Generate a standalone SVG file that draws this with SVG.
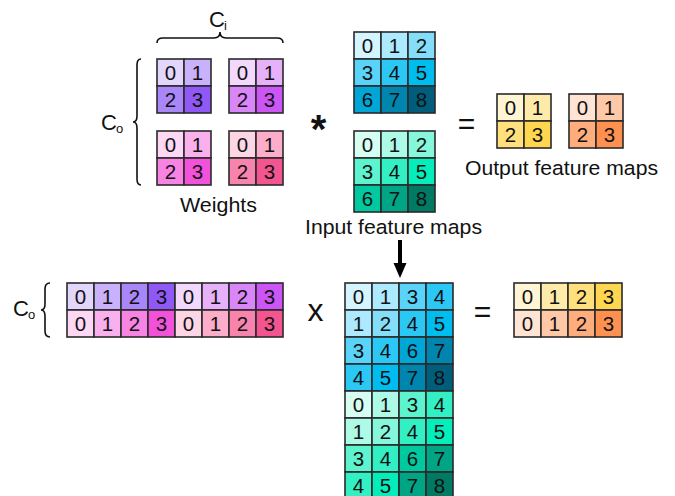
<svg xmlns="http://www.w3.org/2000/svg" width="675" height="496" viewBox="0 0 675 496">
<style>
.c{stroke:#2a2a2a;stroke-width:1.6}
.d{font-family:"Liberation Sans",Arial,sans-serif;font-size:20.5px;text-anchor:middle;fill:#111}
.l{font-family:"Liberation Sans",Arial,sans-serif;font-size:20.5px;text-anchor:middle;fill:#111}
.s{font-family:"Liberation Sans",Arial,sans-serif;fill:#111}
.br{fill:none;stroke:#111;stroke-width:1.6}
</style>
<rect width="675" height="496" fill="#fff"/>

<!-- Weights -->
<g id="weights">
 <g transform="translate(157,59)">
  <rect class="c" x="0" y="0" width="27" height="27" fill="#E2D6FD"/><rect class="c" x="27" y="0" width="27" height="27" fill="#C9B2FB"/>
  <rect class="c" x="0" y="27" width="27" height="27" fill="#A987F9"/><rect class="c" x="27" y="27" width="27" height="27" fill="#8F58F7"/>
  <text class="d" x="13.5" y="21">0</text><text class="d" x="40.5" y="21">1</text><text class="d" x="13.5" y="48">2</text><text class="d" x="40.5" y="48">3</text>
 </g>
 <g transform="translate(229,59)">
  <rect class="c" x="0" y="0" width="27" height="27" fill="#F2D8FD"/><rect class="c" x="27" y="0" width="27" height="27" fill="#E7B1FA"/>
  <rect class="c" x="0" y="27" width="27" height="27" fill="#D886F8"/><rect class="c" x="27" y="27" width="27" height="27" fill="#CB55F5"/>
  <text class="d" x="13.5" y="21">0</text><text class="d" x="40.5" y="21">1</text><text class="d" x="13.5" y="48">2</text><text class="d" x="40.5" y="48">3</text>
 </g>
 <g transform="translate(157,131)">
  <rect class="c" x="0" y="0" width="27" height="27" fill="#FDD8F5"/><rect class="c" x="27" y="0" width="27" height="27" fill="#FAB0ED"/>
  <rect class="c" x="0" y="27" width="27" height="27" fill="#F783E3"/><rect class="c" x="27" y="27" width="27" height="27" fill="#F252DA"/>
  <text class="d" x="13.5" y="21">0</text><text class="d" x="40.5" y="21">1</text><text class="d" x="13.5" y="48">2</text><text class="d" x="40.5" y="48">3</text>
 </g>
 <g transform="translate(229,131)">
  <rect class="c" x="0" y="0" width="27" height="27" fill="#FDD6E5"/><rect class="c" x="27" y="0" width="27" height="27" fill="#FBADC9"/>
  <rect class="c" x="0" y="27" width="27" height="27" fill="#F883AD"/><rect class="c" x="27" y="27" width="27" height="27" fill="#F25590"/>
  <text class="d" x="13.5" y="21">0</text><text class="d" x="40.5" y="21">1</text><text class="d" x="13.5" y="48">2</text><text class="d" x="40.5" y="48">3</text>
 </g>
 <text class="l" x="218.5" y="212" textLength="77" lengthAdjust="spacingAndGlyphs">Weights</text>
 <path class="br" d="M157,43 Q157,38 163,38 L214,38 Q220,38 220,32 Q220,38 226,38 L277,38 Q283,38 283,43"/>
 <text class="s" x="209" y="27" font-size="22">C</text><text class="s" x="224" y="30" font-size="13">i</text>
 <path class="br" d="M141,59 Q137,59 137,65 L137,116 Q137,122 133,122 Q137,122 137,128 L137,179 Q137,185 141,185"/>
 <text class="s" x="101" y="130" font-size="22">C</text><text class="s" x="116" y="133" font-size="13">o</text>
</g>

<!-- Input feature maps -->
<g id="input">
 <g transform="translate(354,32)">
  <rect class="c" x="0" y="0" width="27" height="27" fill="#D4F4FF"/><rect class="c" x="27" y="0" width="27" height="27" fill="#ADEAFF"/><rect class="c" x="54" y="0" width="27" height="27" fill="#84DEFA"/>
  <rect class="c" x="0" y="27" width="27" height="27" fill="#5AD3F8"/><rect class="c" x="27" y="27" width="27" height="27" fill="#2CC8F5"/><rect class="c" x="54" y="27" width="27" height="27" fill="#00BDF0"/>
  <rect class="c" x="0" y="54" width="27" height="27" fill="#00A6D6"/><rect class="c" x="27" y="54" width="27" height="27" fill="#0086AE"/><rect class="c" x="54" y="54" width="27" height="27" fill="#005E7C"/>
  <text class="d" x="13.5" y="21">0</text><text class="d" x="40.5" y="21">1</text><text class="d" x="67.5" y="21">2</text>
  <text class="d" x="13.5" y="48">3</text><text class="d" x="40.5" y="48">4</text><text class="d" x="67.5" y="48">5</text>
  <text class="d" x="13.5" y="75">6</text><text class="d" x="40.5" y="75">7</text><text class="d" x="67.5" y="75">8</text>
 </g>
 <g transform="translate(354,131)">
  <rect class="c" x="0" y="0" width="27" height="27" fill="#D6FEF2"/><rect class="c" x="27" y="0" width="27" height="27" fill="#ADFBE6"/><rect class="c" x="54" y="0" width="27" height="27" fill="#86F7DA"/>
  <rect class="c" x="0" y="27" width="27" height="27" fill="#5DF3CE"/><rect class="c" x="27" y="27" width="27" height="27" fill="#33F0C4"/><rect class="c" x="54" y="27" width="27" height="27" fill="#05EDBB"/>
  <rect class="c" x="0" y="54" width="27" height="27" fill="#00C9A0"/><rect class="c" x="27" y="54" width="27" height="27" fill="#00A585"/><rect class="c" x="54" y="54" width="27" height="27" fill="#007A62"/>
  <text class="d" x="13.5" y="21">0</text><text class="d" x="40.5" y="21">1</text><text class="d" x="67.5" y="21">2</text>
  <text class="d" x="13.5" y="48">3</text><text class="d" x="40.5" y="48">4</text><text class="d" x="67.5" y="48">5</text>
  <text class="d" x="13.5" y="75">6</text><text class="d" x="40.5" y="75">7</text><text class="d" x="67.5" y="75">8</text>
 </g>
 <text class="l" x="393.5" y="234" textLength="177" lengthAdjust="spacingAndGlyphs">Input feature maps</text>
</g>

<g id="ops-top">
 <text class="s" x="318.5" y="143" font-size="40" font-weight="bold" text-anchor="middle">*</text>
 <text class="s" x="466.5" y="134" font-size="30" text-anchor="middle">=</text>
</g>

<!-- Output feature maps -->
<g id="output">
 <g transform="translate(497,94)">
  <rect class="c" x="0" y="0" width="27" height="27" fill="#FFF4D4"/><rect class="c" x="27" y="0" width="27" height="27" fill="#FFEBA9"/>
  <rect class="c" x="0" y="27" width="27" height="27" fill="#FFE07D"/><rect class="c" x="27" y="27" width="27" height="27" fill="#FFD650"/>
  <text class="d" x="13.5" y="21">0</text><text class="d" x="40.5" y="21">1</text><text class="d" x="13.5" y="48">2</text><text class="d" x="40.5" y="48">3</text>
 </g>
 <g transform="translate(569,94)">
  <rect class="c" x="0" y="0" width="27" height="27" fill="#FFE4D4"/><rect class="c" x="27" y="0" width="27" height="27" fill="#FFC9A8"/>
  <rect class="c" x="0" y="27" width="27" height="27" fill="#FFAD7D"/><rect class="c" x="27" y="27" width="27" height="27" fill="#FF9150"/>
  <text class="d" x="13.5" y="21">0</text><text class="d" x="40.5" y="21">1</text><text class="d" x="13.5" y="48">2</text><text class="d" x="40.5" y="48">3</text>
 </g>
 <text class="l" x="561.5" y="175" textLength="193" lengthAdjust="spacingAndGlyphs">Output feature maps</text>
</g>

<!-- connector -->
<g id="connectors">
 <line x1="400" y1="240" x2="400" y2="265" stroke="#000" stroke-width="4"/>
 <polygon points="393.5,263 406.5,263 400,278" fill="#000"/>
</g>

<!-- Bottom: weight matrix -->
<g id="weight-matrix">
 <g transform="translate(67,283)">
  <rect class="c" x="0" y="0" width="27" height="27" fill="#E2D6FD"/><rect class="c" x="27" y="0" width="27" height="27" fill="#C9B2FB"/><rect class="c" x="54" y="0" width="27" height="27" fill="#A987F9"/><rect class="c" x="81" y="0" width="27" height="27" fill="#8F58F7"/>
  <rect class="c" x="108" y="0" width="27" height="27" fill="#F2D8FD"/><rect class="c" x="135" y="0" width="27" height="27" fill="#E7B1FA"/><rect class="c" x="162" y="0" width="27" height="27" fill="#D886F8"/><rect class="c" x="189" y="0" width="27" height="27" fill="#CB55F5"/>
  <rect class="c" x="0" y="27" width="27" height="27" fill="#FDD8F5"/><rect class="c" x="27" y="27" width="27" height="27" fill="#FAB0ED"/><rect class="c" x="54" y="27" width="27" height="27" fill="#F783E3"/><rect class="c" x="81" y="27" width="27" height="27" fill="#F252DA"/>
  <rect class="c" x="108" y="27" width="27" height="27" fill="#FDD6E5"/><rect class="c" x="135" y="27" width="27" height="27" fill="#FBADC9"/><rect class="c" x="162" y="27" width="27" height="27" fill="#F883AD"/><rect class="c" x="189" y="27" width="27" height="27" fill="#F25590"/>
  <text class="d" x="13.5" y="21">0</text><text class="d" x="40.5" y="21">1</text><text class="d" x="67.5" y="21">2</text><text class="d" x="94.5" y="21">3</text>
  <text class="d" x="121.5" y="21">0</text><text class="d" x="148.5" y="21">1</text><text class="d" x="175.5" y="21">2</text><text class="d" x="202.5" y="21">3</text>
  <text class="d" x="13.5" y="48">0</text><text class="d" x="40.5" y="48">1</text><text class="d" x="67.5" y="48">2</text><text class="d" x="94.5" y="48">3</text>
  <text class="d" x="121.5" y="48">0</text><text class="d" x="148.5" y="48">1</text><text class="d" x="175.5" y="48">2</text><text class="d" x="202.5" y="48">3</text>
 </g>
 <path class="br" d="M50,283 Q45,283 45,289 L45,304 Q45,310 41,310 Q45,310 45,316 L45,331 Q45,337 50,337"/>
 <text class="s" x="13" y="316" font-size="22">C</text><text class="s" x="28" y="319" font-size="13">o</text>
</g>

<g id="ops-bottom">
 <text class="s" x="315.5" y="321" font-size="32" text-anchor="middle">x</text>
 <text class="s" x="482.5" y="322" font-size="30" text-anchor="middle">=</text>
</g>

<!-- Bottom: im2col input matrix -->
<g id="input-matrix">
 <g transform="translate(345,283)">
  <rect class="c" x="0" y="0" width="27" height="27" fill="#D4F4FF"/><rect class="c" x="27" y="0" width="27" height="27" fill="#ADEAFF"/><rect class="c" x="54" y="0" width="27" height="27" fill="#5AD3F8"/><rect class="c" x="81" y="0" width="27" height="27" fill="#2CC8F5"/>
  <rect class="c" x="0" y="27" width="27" height="27" fill="#ADEAFF"/><rect class="c" x="27" y="27" width="27" height="27" fill="#84DEFA"/><rect class="c" x="54" y="27" width="27" height="27" fill="#2CC8F5"/><rect class="c" x="81" y="27" width="27" height="27" fill="#00BDF0"/>
  <rect class="c" x="0" y="54" width="27" height="27" fill="#5AD3F8"/><rect class="c" x="27" y="54" width="27" height="27" fill="#2CC8F5"/><rect class="c" x="54" y="54" width="27" height="27" fill="#00A6D6"/><rect class="c" x="81" y="54" width="27" height="27" fill="#0086AE"/>
  <rect class="c" x="0" y="81" width="27" height="27" fill="#2CC8F5"/><rect class="c" x="27" y="81" width="27" height="27" fill="#00BDF0"/><rect class="c" x="54" y="81" width="27" height="27" fill="#0086AE"/><rect class="c" x="81" y="81" width="27" height="27" fill="#005E7C"/>
  <rect class="c" x="0" y="108" width="27" height="27" fill="#D6FEF2"/><rect class="c" x="27" y="108" width="27" height="27" fill="#ADFBE6"/><rect class="c" x="54" y="108" width="27" height="27" fill="#5DF3CE"/><rect class="c" x="81" y="108" width="27" height="27" fill="#33F0C4"/>
  <rect class="c" x="0" y="135" width="27" height="27" fill="#ADFBE6"/><rect class="c" x="27" y="135" width="27" height="27" fill="#86F7DA"/><rect class="c" x="54" y="135" width="27" height="27" fill="#33F0C4"/><rect class="c" x="81" y="135" width="27" height="27" fill="#05EDBB"/>
  <rect class="c" x="0" y="162" width="27" height="27" fill="#5DF3CE"/><rect class="c" x="27" y="162" width="27" height="27" fill="#33F0C4"/><rect class="c" x="54" y="162" width="27" height="27" fill="#00C9A0"/><rect class="c" x="81" y="162" width="27" height="27" fill="#00A585"/>
  <rect class="c" x="0" y="189" width="27" height="27" fill="#33F0C4"/><rect class="c" x="27" y="189" width="27" height="27" fill="#05EDBB"/><rect class="c" x="54" y="189" width="27" height="27" fill="#00A585"/><rect class="c" x="81" y="189" width="27" height="27" fill="#007A62"/>
  <text class="d" x="13.5" y="21">0</text><text class="d" x="40.5" y="21">1</text><text class="d" x="67.5" y="21">3</text><text class="d" x="94.5" y="21">4</text>
  <text class="d" x="13.5" y="48">1</text><text class="d" x="40.5" y="48">2</text><text class="d" x="67.5" y="48">4</text><text class="d" x="94.5" y="48">5</text>
  <text class="d" x="13.5" y="75">3</text><text class="d" x="40.5" y="75">4</text><text class="d" x="67.5" y="75">6</text><text class="d" x="94.5" y="75">7</text>
  <text class="d" x="13.5" y="102">4</text><text class="d" x="40.5" y="102">5</text><text class="d" x="67.5" y="102">7</text><text class="d" x="94.5" y="102">8</text>
  <text class="d" x="13.5" y="129">0</text><text class="d" x="40.5" y="129">1</text><text class="d" x="67.5" y="129">3</text><text class="d" x="94.5" y="129">4</text>
  <text class="d" x="13.5" y="156">1</text><text class="d" x="40.5" y="156">2</text><text class="d" x="67.5" y="156">4</text><text class="d" x="94.5" y="156">5</text>
  <text class="d" x="13.5" y="183">3</text><text class="d" x="40.5" y="183">4</text><text class="d" x="67.5" y="183">6</text><text class="d" x="94.5" y="183">7</text>
  <text class="d" x="13.5" y="210">4</text><text class="d" x="40.5" y="210">5</text><text class="d" x="67.5" y="210">7</text><text class="d" x="94.5" y="210">8</text>
 </g>
</g>

<!-- Bottom: output matrix -->
<g id="output-matrix">
 <g transform="translate(514,283)">
  <rect class="c" x="0" y="0" width="27" height="27" fill="#FFF4D4"/><rect class="c" x="27" y="0" width="27" height="27" fill="#FFEBA9"/><rect class="c" x="54" y="0" width="27" height="27" fill="#FFE07D"/><rect class="c" x="81" y="0" width="27" height="27" fill="#FFD650"/>
  <rect class="c" x="0" y="27" width="27" height="27" fill="#FFE4D4"/><rect class="c" x="27" y="27" width="27" height="27" fill="#FFC9A8"/><rect class="c" x="54" y="27" width="27" height="27" fill="#FFAD7D"/><rect class="c" x="81" y="27" width="27" height="27" fill="#FF9150"/>
  <text class="d" x="13.5" y="21">0</text><text class="d" x="40.5" y="21">1</text><text class="d" x="67.5" y="21">2</text><text class="d" x="94.5" y="21">3</text>
  <text class="d" x="13.5" y="48">0</text><text class="d" x="40.5" y="48">1</text><text class="d" x="67.5" y="48">2</text><text class="d" x="94.5" y="48">3</text>
 </g>
</g>
</svg>
